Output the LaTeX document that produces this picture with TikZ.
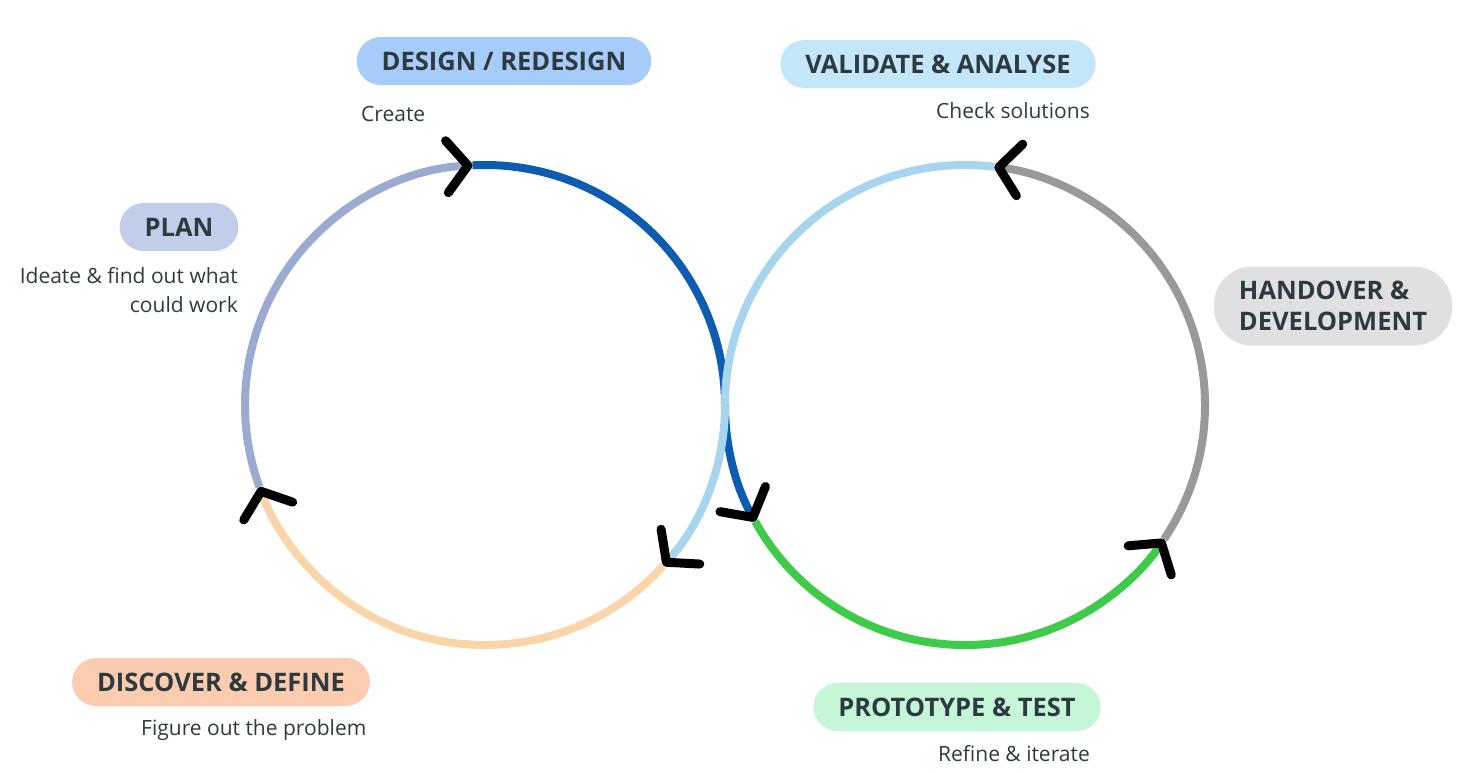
\documentclass[tikz,border=0pt]{standalone}
\usepackage{fontspec}
\setmainfont{Open Sans}
\usetikzlibrary{arrows.meta}
\definecolor{txt}{HTML}{2D3B40}
\definecolor{cgb}{HTML}{9AAAD0}
\definecolor{cbl}{HTML}{0D5CB0}
\definecolor{clb}{HTML}{A8D5EE}
\definecolor{cpe}{HTML}{FAD5AA}
\definecolor{cgr}{HTML}{3ECB4A}
\definecolor{cgy}{HTML}{999999}
\begin{document}
\begin{tikzpicture}[x=1pt,y=1pt,
  pill/.style={rounded corners=24pt,inner xsep=25pt,minimum height=48pt,font=\fontsize{25.5}{31}\selectfont\bfseries,text=txt,align=left},
  desc/.style={font=\fontsize{21}{29}\selectfont,text=txt,inner sep=0pt},
  seg/.style={line width=8pt,-{Straight Barb[length=21pt,width=52pt,line width=9pt,black,round]}},
  plain/.style={line width=8pt}]
\useasboundingbox (0,0) rectangle (1459,-772);
\coordinate (L) at (485,-405);
\coordinate (R) at (965,-405);
% arcs
\draw[seg,cgb] (L) ++(200:240) arc[start angle=200,end angle=93,radius=240];
\draw[plain,cbl] (L) ++(93:240) arc[start angle=93,end angle=0,radius=240];
\draw[seg,cbl] (R) ++(180:240) arc[start angle=180,end angle=209,radius=240];
\draw[seg,cgr] (R) ++(209:240) arc[start angle=209,end angle=326,radius=240];
\draw[seg,cgy] (R) ++(-34:240) arc[start angle=-34,end angle=83,radius=240];
\draw[plain,clb] (R) ++(83:240) arc[start angle=83,end angle=180,radius=240];
\draw[seg,clb] (L) ++(0:240) arc[start angle=0,end angle=-42,radius=240];
\draw[seg,cpe] (L) ++(-42:240) arc[start angle=-42,end angle=-160,radius=240];
% pills
\node[pill,fill={rgb,255:red,166;green,205;blue,249}] (design) at (504,-61) {DESIGN / REDESIGN};
\node[pill,fill={rgb,255:red,195;green,230;blue,249}] (validate) at (938,-64) {VALIDATE \& ANALYSE};
\node[pill,fill={rgb,255:red,194;green,205;blue,233}] (plan) at (179,-227) {PLAN};
\node[pill,fill={rgb,255:red,224;green,224;blue,224},minimum height=79pt,rounded corners=38pt] (hand) at (1333,-306) {HANDOVER \&\\DEVELOPMENT};
\node[pill,fill={rgb,255:red,252;green,204;blue,176}] (disc) at (221,-682) {DISCOVER \& DEFINE};
\node[pill,fill={rgb,255:red,197;green,246;blue,216}] (proto) at (957,-707) {PROTOTYPE \& TEST};
% descriptions
\node[desc,anchor=west] (d1) at (361,-114) {Create};
\node[desc,anchor=east] (d2) at (1090,-111) {Check solutions};
\node[desc,anchor=east,align=right] (d3) at (238,-290) {Ideate \& find out what\\could work};
\node[desc,anchor=west] (d4) at (141,-730) {Figure out the problem};
\node[desc,anchor=east] (d5) at (1090,-754) {Refine \& iterate};
\end{tikzpicture}
\end{document}
